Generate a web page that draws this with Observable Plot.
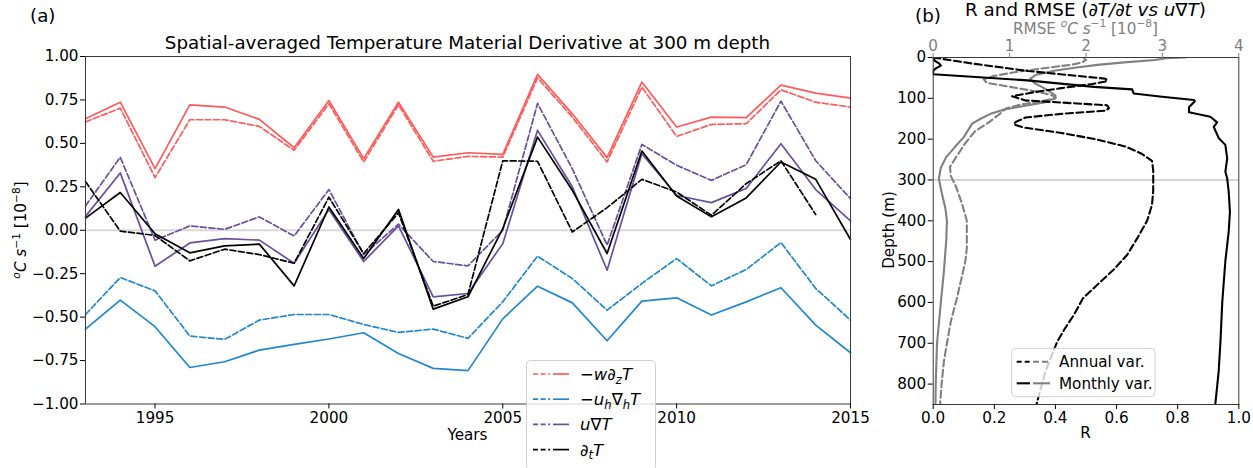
<!DOCTYPE html>
<html><head><meta charset="utf-8">
<script src="https://cdn.jsdelivr.net/npm/d3@7"></script>
<script src="https://cdn.jsdelivr.net/npm/@observablehq/plot@0.6"></script>
<style>
body{margin:0;background:#fff;font-family:"DejaVu Sans",sans-serif;}
#wrap{position:relative;width:1253px;height:468px;overflow:hidden;background:#fff;}
#a,#b{position:absolute;top:0;}
#a{left:0px;}
#b{left:860px;}
svg{overflow:visible;}
</style></head><body>
<div id="wrap"><div id="a"></div><div id="b"></div></div>
<script>
// ---------------- Panel (a) data ----------------
const years = [1993,1994,1995,1996,1997,1998,1999,2000,2001,2002,2003,2004,2005,2006,2007,2008,2009,2010,2011,2012,2013,2014,2015];
const wdzT_monthly = [0.642,0.737,0.355,0.722,0.709,0.638,0.475,0.747,0.412,0.737,0.421,0.446,0.437,0.897,0.670,0.418,0.853,0.594,0.651,0.648,0.835,0.789,0.760];
const wdzT_annual  = [0.623,0.703,0.303,0.636,0.636,0.598,0.460,0.728,0.393,0.722,0.397,0.425,0.421,0.877,0.651,0.393,0.824,0.540,0.609,0.613,0.808,0.737,0.709];
const uhT_monthly  = [-0.569,-0.402,-0.555,-0.790,-0.757,-0.690,-0.657,-0.626,-0.590,-0.709,-0.795,-0.808,-0.510,-0.322,-0.418,-0.636,-0.408,-0.389,-0.488,-0.412,-0.331,-0.546,-0.705];
const uhT_annual   = [-0.485,-0.272,-0.349,-0.609,-0.628,-0.517,-0.485,-0.485,-0.542,-0.588,-0.569,-0.622,-0.412,-0.149,-0.278,-0.460,-0.306,-0.163,-0.320,-0.226,-0.071,-0.335,-0.517];
const uT_monthly   = [0.080,0.330,-0.207,-0.073,-0.048,-0.057,-0.190,0.119,-0.180,0.025,-0.383,-0.364,-0.077,0.575,0.250,-0.230,0.440,0.200,0.159,0.240,0.498,0.234,0.054];
const uT_annual    = [0.140,0.420,-0.057,0.025,0.005,0.077,-0.033,0.234,-0.140,0.035,-0.180,-0.205,0.000,0.730,0.354,-0.086,0.494,0.374,0.287,0.377,0.743,0.400,0.182];
const dtT_monthly  = [0.070,0.217,-0.020,-0.130,-0.090,-0.080,-0.320,0.134,-0.163,0.120,-0.454,-0.383,0.010,0.536,0.230,-0.134,0.456,0.197,0.077,0.186,0.393,0.293,-0.053];
const dtT_annual   = [0.280,-0.005,-0.030,-0.176,-0.109,-0.140,-0.190,0.190,-0.134,0.100,-0.437,-0.370,0.400,0.397,-0.010,0.130,0.293,0.220,0.086,0.268,0.400,0.090];
const xTicksA = [1995,2000,2005,2010,2015];
const yTicksA = [-1,-0.75,-0.5,-0.25,0,0.25,0.5,0.75,1];

// ---------------- Panel (b) data ----------------
const R_monthly_depth = [0,8,15,20,26,32,41,56,72,78,88,96,104,107,122,134,145,159,170,197,214,247,280,296,329,378,426,499,598,696,770,850];
const R_monthly       = [0,0.005,0.02,0.025,0.01,0,0,0.308,0.526,0.651,0.656,0.749,0.853,0.856,0.837,0.837,0.907,0.929,0.918,0.934,0.956,0.962,0.956,0.962,0.967,0.971,0.967,0.956,0.946,0.940,0.934,0.923];
const R_annual_depth  = [0,15,33,52,58,65,75,85,95,105,117,124,130,138,147,158,164,172,185,200,218,235,253,277,326,361,400,440,483,520,549,590,631,665,696,735,770,810,850];
const R_annual        = [0,0.13,0.31,0.564,0.57,0.52,0.42,0.33,0.258,0.30,0.569,0.575,0.565,0.42,0.302,0.27,0.264,0.30,0.42,0.53,0.629,0.68,0.716,0.72,0.72,0.716,0.70,0.67,0.635,0.59,0.548,0.49,0.46,0.43,0.406,0.385,0.367,0.352,0.338];
const RMSE_monthly_depth = [0,2,6,12,18,24,32,42,52,62,75,93,100,110,120,128,138,150,162,195,220,244,270,297,330,370,400,450,524,600,700,800,850];
const RMSE_monthly       = [3.3,3.05,2.9,2.5,2.15,1.9,1.6,1.35,1.27,1.32,1.45,1.6,1.6,1.45,1.15,0.92,0.75,0.62,0.51,0.40,0.28,0.17,0.10,0.074,0.11,0.16,0.18,0.17,0.14,0.10,0.05,0.033,0.03];
const RMSE_annual_depth  = [0,6,12,18,25,35,45,53,62,75,85,93,100,108,115,125,140,160,180,210,244,268,290,317,360,400,467,500,549,590,647,700,745,800,850];
const RMSE_annual        = [1.97,2.0,1.95,1.8,1.5,1.1,0.8,0.66,0.7,1.1,1.4,1.56,1.6,1.4,1.15,0.95,0.86,0.72,0.55,0.42,0.30,0.22,0.23,0.30,0.38,0.44,0.44,0.42,0.36,0.31,0.23,0.18,0.14,0.11,0.09];
const rTicks = [0,0.2,0.4,0.6,0.8,1.0];
const rmseTicks = [0,1,2,3,4];
const rmseMax = 4;
const depthTicks = [0,100,200,300,400,500,600,700,800];
const refDepth = [300];

// ---------------- styles ----------------
const RED = "#ff5a5a", BLUE = "#1f87cf", PURPLE = "#6a4f9e", BLACK = "#000", GRAY = "#808080";
const FONT = "DejaVu Sans";
const FS = 15.2;
const FT = 18.3;

const ts = (vals) => vals.map((v, i) => ({year: years[i], value: v}));
const prof = (depths, vals) => depths.map((d, i) => ({depth: d, v: vals[i]}));

const lineA = (vals, color, dashed) => Plot.line(ts(vals), {x: "year", y: "value", stroke: color, strokeWidth: 1.7, strokeDasharray: dashed ? "6,2.6" : null});

const chartA = Plot.plot({
  width: 860, height: 468,
  marginLeft: 85, marginRight: 10, marginTop: 56, marginBottom: 64.5,
  style: {fontFamily: FONT, fontSize: FS + "px", color: "#000", background: "transparent"},
  x: {domain: [1993, 2015]},
  y: {domain: [-1, 1]},
  marks: [
    Plot.ruleY([0], {stroke: "#d8d8d8", strokeWidth: 2}),
    lineA(wdzT_annual, RED, true), lineA(wdzT_monthly, RED, false),
    lineA(uhT_annual, BLUE, true), lineA(uhT_monthly, BLUE, false),
    lineA(uT_annual, PURPLE, true), lineA(uT_monthly, PURPLE, false),
    lineA(dtT_annual, BLACK, true), lineA(dtT_monthly, BLACK, false),
    Plot.frame({stroke: "#3a3a3a", strokeWidth: 1}),
    Plot.axisX({ticks: xTicksA, tickFormat: d => String(d), tickSize: 5, tickPadding: 3, label: null, fontSize: FS}),
    Plot.axisY({ticks: yTicksA, tickFormat: d3.format(".2f"), tickSize: 5, tickPadding: 2, label: null, fontSize: FS})
  ]
});
document.getElementById("a").appendChild(chartA);

const lineB = (data, xf, color, dashed) => Plot.line(data, {x: xf, y: "depth", stroke: color, strokeWidth: 2.1, strokeDasharray: dashed ? "7,3.5" : null, clip: true});

const chartB = Plot.plot({
  width: 393, height: 468,
  marginLeft: 72.7, marginRight: 14.7, marginTop: 57, marginBottom: 64,
  style: {fontFamily: FONT, fontSize: FS + "px", color: "#000", background: "transparent"},
  x: {domain: [0, 1]},
  y: {domain: [0, 850], reverse: true},
  marks: [
    Plot.ruleY(refDepth, {stroke: "#aaaaaa", strokeWidth: 1}),
    lineB(prof(RMSE_annual_depth, RMSE_annual), d => d.v / rmseMax, GRAY, true),
    lineB(prof(RMSE_monthly_depth, RMSE_monthly), d => d.v / rmseMax, GRAY, false),
    lineB(prof(R_annual_depth, R_annual), "v", BLACK, true),
    lineB(prof(R_monthly_depth, R_monthly), "v", BLACK, false),
    Plot.frame({stroke: "#3a3a3a", strokeWidth: 1}),
    Plot.axisX({anchor: "bottom", ticks: rTicks, tickFormat: d3.format(".1f"), tickSize: 5, tickPadding: 3, label: null, fontSize: FS}),
    Plot.axisX({anchor: "top", ticks: rmseTicks.map(t => t / rmseMax), tickFormat: d => String(Math.round(d * rmseMax)), tickSize: 5, tickPadding: 2, label: null, fontSize: FS, color: GRAY}),
    Plot.axisY({ticks: depthTicks, tickFormat: d => String(d), tickSize: 5, tickPadding: 2, label: null, fontSize: FS})
  ]
});
document.getElementById("b").appendChild(chartB);

// ---------------- text helpers ----------------
function mtext(svg, x, y, segs, o = {}) {
  const size = o.size || FS;
  const t = d3.select(svg).append("text")
    .attr("x", x).attr("y", y)
    .attr("font-family", FONT).attr("font-size", size)
    .attr("text-anchor", o.anchor || "start")
    .attr("fill", o.fill || "#000");
  if (o.rotate) t.attr("transform", `rotate(-90 ${x} ${y})`);
  let shift = 0;
  for (const s of segs) {
    const sp = t.append("tspan").text(s.t);
    if (s.i) sp.attr("font-style", "italic");
    const target = s.sub ? 0.22 * size : s.sup ? -0.42 * size : 0;
    const dy = target - shift; shift = target;
    if (dy) sp.attr("dy", dy);
    if (s.sub || s.sup) sp.attr("font-size", size * 0.7);
  }
  return t;
}
const unitSegs = [{t: "o", i: 1, sup: 1}, {t: "C s", i: 1}, {t: "−1", sup: 1}, {t: " [10"}, {t: "−8", sup: 1}, {t: "]"}];

// Panel (a) texts
mtext(chartA, 30, 22, [{t: "(a)"}], {size: FT});
mtext(chartA, 467.5, 49, [{t: "Spatial-averaged Temperature Material Derivative at 300 m depth"}], {size: FT, anchor: "middle"});
mtext(chartA, 467.5, 440, [{t: "Years"}], {anchor: "middle"});
mtext(chartA, 26, 230, unitSegs, {anchor: "middle", rotate: true});

// Panel (b) texts (svg offset 860)
mtext(chartB, 55, 22, [{t: "(b)"}], {size: FT});
mtext(chartB, 225.5, 15.5, [{t: "R and RMSE ("}, {t: "∂T/∂t vs u", i: 1}, {t: "∇"}, {t: "T", i: 1}, {t: ")"}], {size: FT, anchor: "middle"});
mtext(chartB, 225.5, 33.5, [{t: "RMSE "}].concat(unitSegs), {anchor: "middle", fill: GRAY});
mtext(chartB, 225.5, 438, [{t: "R"}], {anchor: "middle"});
mtext(chartB, 34, 230, [{t: "Depth (m)"}], {anchor: "middle", rotate: true});

// ---------------- legends ----------------
function legendBox(svg, x, y, w, h) {
  d3.select(svg).append("rect").attr("x", x).attr("y", y).attr("width", w).attr("height", h)
    .attr("rx", 4).attr("fill", "rgba(255,255,255,0.8)").attr("stroke", "#d0d0d0").attr("stroke-width", 1);
}
function seg(svg, x1, x2, y, color, dash, w) {
  d3.select(svg).append("line").attr("x1", x1).attr("x2", x2).attr("y1", y).attr("y2", y)
    .attr("stroke", color).attr("stroke-width", w).attr("stroke-dasharray", dash || null);
}
const legendA = [
  {color: RED, segs: [{t: "−"}, {t: "w∂", i: 1}, {t: "z", i: 1, sub: 1}, {t: "T", i: 1}]},
  {color: BLUE, segs: [{t: "−"}, {t: "u", i: 1}, {t: "h", i: 1, sub: 1}, {t: "∇"}, {t: "h", i: 1, sub: 1}, {t: "T", i: 1}]},
  {color: PURPLE, segs: [{t: "u", i: 1}, {t: "∇"}, {t: "T", i: 1}]},
  {color: BLACK, segs: [{t: "∂", i: 1}, {t: "t", i: 1, sub: 1}, {t: "T", i: 1}]}
];
legendBox(chartA, 526.5, 360.5, 129, 110);
legendA.forEach((e, k) => {
  const cy = 374 + k * 25.2;
  seg(chartA, 533, 550, cy, e.color, "5,2.6", 1.7);
  seg(chartA, 553, 569, cy, e.color, null, 1.7);
  mtext(chartA, 580, cy + 6, e.segs, {size: 16.5});
});

legendBox(chartB, 151.7, 348.3, 143.3, 48.4);
[{label: "Annual var.", dash: true}, {label: "Monthly var.", dash: false}].forEach((e, k) => {
  const cy = 361.7 + k * 21.6;
  seg(chartB, 156.7, 170, cy, BLACK, e.dash ? "5,3" : null, 2.1);
  seg(chartB, 173, 190, cy, GRAY, e.dash ? "6,3" : null, 2.1);
  mtext(chartB, 199, cy + 5.5, [{t: e.label}]);
});
</script>
</body></html>
